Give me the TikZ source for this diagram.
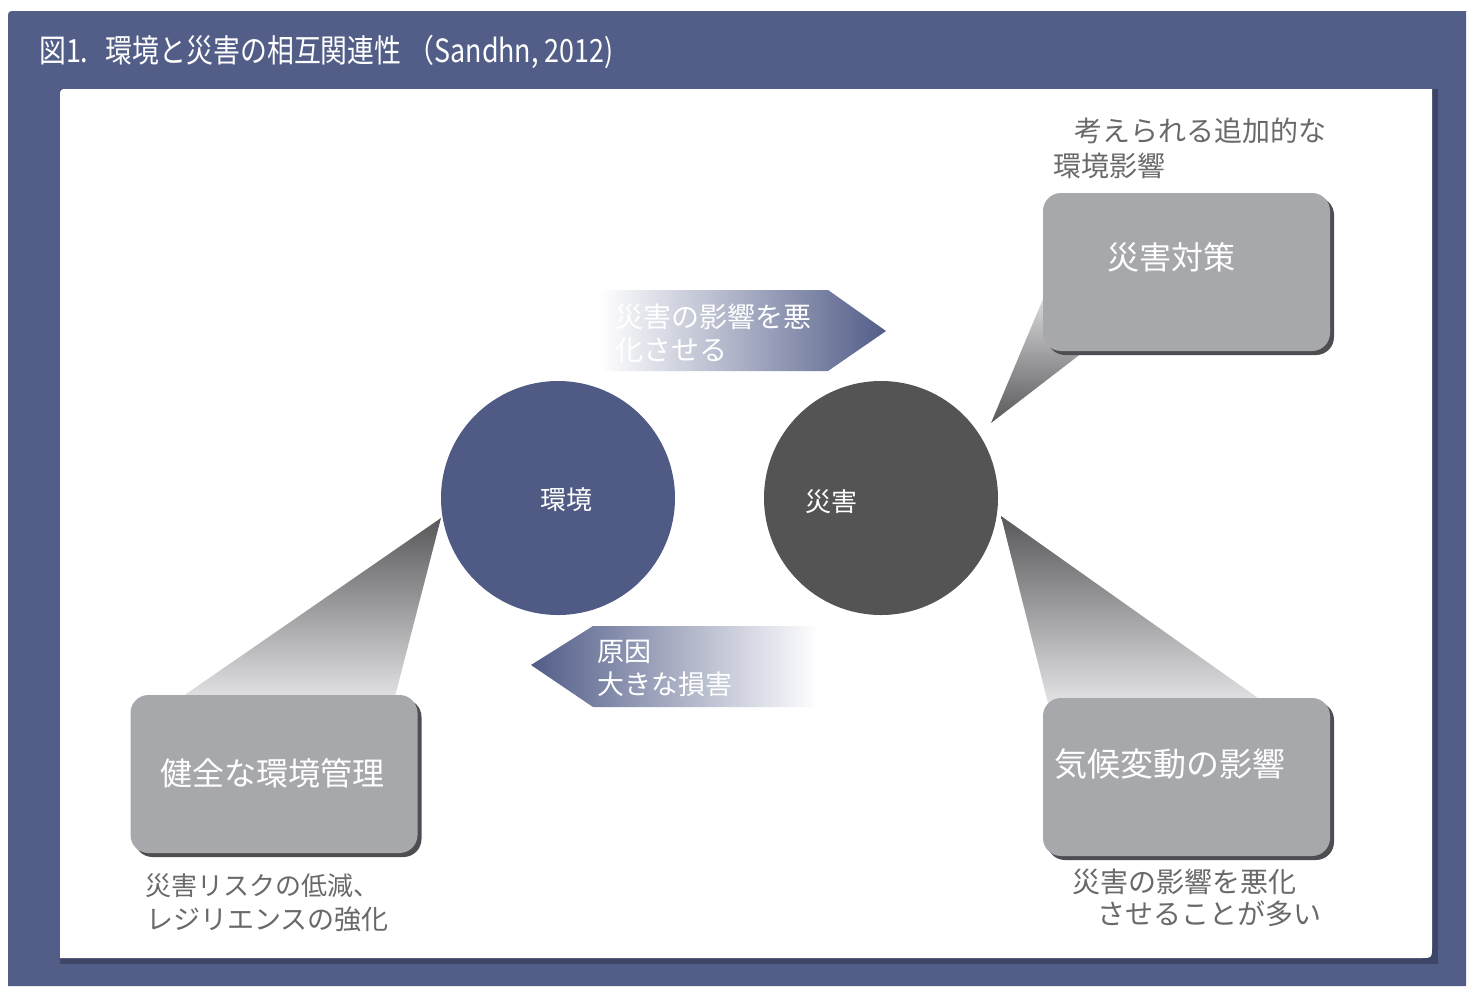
\documentclass[tikz,border=0pt]{standalone}
\usepackage{fontspec}
\newfontfamily\jp{Noto Sans CJK JP}
\usetikzlibrary{calc,shadows}
\definecolor{frameblue}{RGB}{82,94,136}
\definecolor{shadowblue}{RGB}{62,70,104}
\definecolor{envblue}{RGB}{80,91,133}
\definecolor{arrowblue}{RGB}{82,93,136}
\definecolor{disgray}{RGB}{84,84,84}
\definecolor{boxgray}{RGB}{167,168,172}
\definecolor{boxshadow}{RGB}{78,78,82}
\definecolor{labelgray}{RGB}{105,105,105}
\definecolor{coneDark}{RGB}{88,88,90}
\definecolor{coneLight}{RGB}{236,236,238}
\begin{document}
\begin{tikzpicture}[x=1pt,y=-1pt,
  gbox/.style={rounded corners=18pt, fill=boxgray, minimum width=287pt, minimum height=158pt, inner sep=0pt,
    drop shadow={shadow xshift=4pt,shadow yshift=-4pt,fill=boxshadow,opacity=1}},
  boxtext/.style={text=white, font=\jp\fontsize{32}{32}\selectfont, inner sep=0pt},
  note/.style={text=labelgray, font=\jp\fontsize{27}{27}\selectfont, inner sep=0pt, anchor=west},
  arrowtext/.style={text=white, font=\jp\fontsize{27}{33}\selectfont, align=left, inner sep=0pt, anchor=west},
  circletext/.style={text=white, font=\jp\fontsize{26}{26}\selectfont, inner sep=0pt},
  bigcircle/.style={circle, minimum size=234pt, inner sep=0pt}
  ]
\useasboundingbox (0,0) rectangle (1467,986);
% outer frame
\fill[frameblue] (8,986) -- (8,19) .. controls (8,11) .. (16,11) -- (1466,11) -- (1466,986) -- cycle;
\node[anchor=west, text=white, inner sep=0pt, xscale=0.84, font=\jp\fontsize{32}{32}\selectfont] (title) at (39,52)
  {図1.\hspace{0.65em}環境と災害の相互関連性\ （Sandhn, 2012)};
% panel
\fill[shadowblue] (60,89) rectangle (1438,964);
\fill[white] (60,958) -- (60,97) .. controls (60,89) .. (68,89) -- (1432,89) -- (1432,946) .. controls (1432,958) .. (1420,958) -- cycle;

% circles
\node[bigcircle, fill=envblue] (env) at (558,498) {};
\node[bigcircle, fill=disgray] (dis) at (881,498) {};

% boxes (positions)
\coordinate (topc) at (1186.5,272);
\coordinate (leftc) at (274,774);
\coordinate (rightc) at (1186.5,777);

% cones
\coordinate (apexT) at (991,423);
\coordinate (apexL) at (441,518);
\coordinate (apexR) at (1001,516);
\shade[top color=coneLight, bottom color=coneDark] (apexT) -- (1051,280) -- (1113,329) -- cycle;
\shade[top color=coneDark, bottom color=coneLight] (apexL) -- (160,712) -- (391,712) -- cycle;
\shade[top color=coneDark, bottom color=coneLight] (apexR) -- (1051,715) -- (1282,715) -- cycle;

\node[gbox] (measures) at (topc) {};
\node[gbox] (mgmt) at (leftc) {};
\node[gbox] (climate) at (rightc) {};

\node[boxtext] (measuresT) at (1171,257) {災害対策};
\node[boxtext] (mgmtT) at (272,773) {健全な環境管理};
\node[boxtext, anchor=west, font=\jp\fontsize{33}{33}\selectfont] (climateT) at (1054,764) {気候変動の影響};

% circle labels
\node[circletext] (envT) at (566,500) {環境};
\node[circletext] (disT) at (831,502) {災害};

% arrows
\shade[left color=white, right color=arrowblue] (600,290) -- (828,290) -- (886,331) -- (828,371) -- (600,371) -- cycle;
\shade[left color=arrowblue, right color=white] (818,626) -- (593,626) -- (531,665) -- (593,707) -- (818,707) -- cycle;
\node[arrowtext, font=\jp\fontsize{28}{33}\selectfont] (worsen) at (615,333) {災害の影響を悪\\化させる};
\node[arrowtext] (cause) at (597,668) {原因\\大きな損害};

% notes
\node[note, font=\jp\fontsize{28}{28}\selectfont] (add1) at (1074,131) {考えられる追加的な};
\node[note, font=\jp\fontsize{28}{28}\selectfont] (add2) at (1053,166) {環境影響};
\node[note, font=\jp\fontsize{26}{26}\selectfont] (risk1) at (145,886) {災害リスクの低減、};
\node[note] (risk2) at (146,919) {レジリエンスの強化};
\node[note, font=\jp\fontsize{28}{28}\selectfont] (often1) at (1072,882) {災害の影響を悪化};
\node[note, font=\jp\fontsize{28}{28}\selectfont] (often2) at (1097,914) {させることが多い};
\end{tikzpicture}
\end{document}
